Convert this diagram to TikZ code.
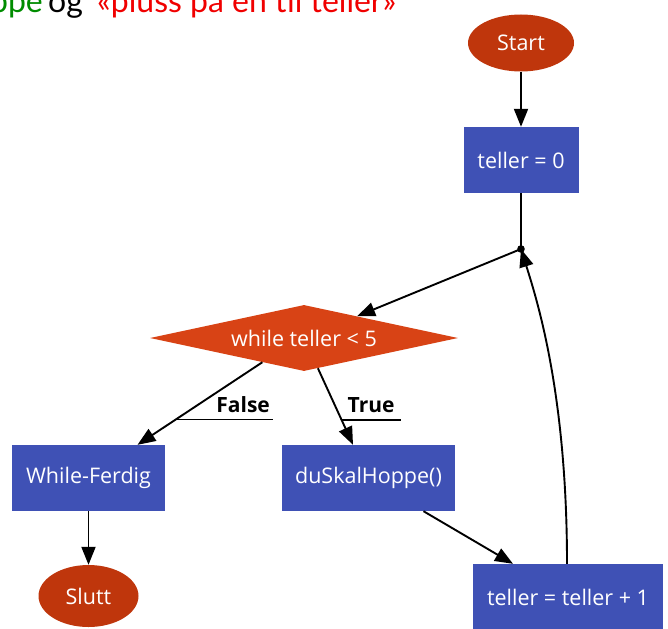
\documentclass[tikz,border=0pt]{standalone}
\usepackage{fontspec}
\setmainfont{Open Sans}
\newfontfamily\headfont{Lato}
\usetikzlibrary{shapes.geometric,arrows.meta,calc}
\definecolor{boxblue}{RGB}{63,81,181}
\definecolor{diamondorange}{RGB}{216,67,21}
\definecolor{termred}{RGB}{191,54,12}
\definecolor{headgreen}{RGB}{0,140,0}
\definecolor{headred}{RGB}{240,0,0}
\begin{document}
\begin{tikzpicture}[x=1pt,y=-1pt,
  every node/.style={font=\fontsize{21.5}{26}\selectfont},
  procbox/.style={rectangle, fill=boxblue, text=white, minimum height=66pt, inner sep=0pt},
  terminal/.style={ellipse, fill=termred, text=white, inner sep=0pt},
  decision/.style={diamond, fill=diamondorange, text=white, inner sep=0pt,
    aspect=4.67, minimum width=308pt, minimum height=66pt},
  flow/.style={line width=1.9pt, -{Triangle[length=18pt,width=14pt]}},
  plain/.style={line width=1.9pt},
  underline/.style={line width=1.3pt},
  edgelabel/.style={font=\bfseries\fontsize{21}{25}\selectfont},
  heading/.style={font=\headfont\fontsize{32}{38}\selectfont, inner sep=0pt}
]
\useasboundingbox (0,0) rectangle (668,628);
\clip (0,0) rectangle (668,628);

% heading line
\node[heading, text=headgreen, anchor=base east] (h1) at (43,13) {Hoppe};
\node[heading, text=black, anchor=base west] (h2) at (48,13) {og};
\node[heading, text=headred, anchor=base west] (h3) at (97,13) {«pluss på en til teller»};

% nodes
\node[terminal, minimum width=106pt, minimum height=57pt] (start) at (521,43) {Start};
\node[procbox, minimum width=115pt] (init) at (521,160) {teller = 0};
\coordinate (join) at (521,249);
\node[decision] (cond) at (304,338) {while teller < 5};
\node[procbox, minimum width=153pt] (done) at (88.5,478) {While-Ferdig};
\node[procbox, minimum width=173pt] (body) at (368.5,478) {duSkalHoppe()};
\node[terminal, minimum width=100pt, minimum height=62pt] (stop) at (88.5,596) {Slutt};
\node[procbox, minimum width=190pt] (incr) at (568,597) {teller = teller + 1};

% connectors
\draw[flow] (start) -- (init);
\draw[plain] (init) -- (join);
\fill (join) circle (3.8pt);
\draw[flow] (join) -- (cond);

\coordinate (fs) at ($(cond.west)!0.73!(cond.south)$);
\coordinate (fe) at ([xshift=49pt]done.north);
\draw[flow] (fs) -- (fe);
\coordinate (fu) at ($(fs)!0.69!(fe)$);
\draw[underline] (fu) -- ++(97,0) coordinate (fv);
\node[edgelabel, anchor=base] (flab) at ($(fu)!0.69!(fv)+(0,-7)$) {False};

\coordinate (ts) at ($(cond.south)!0.09!(cond.east)$);
\coordinate (te) at ([xshift=-15.5pt]body.north);
\draw[flow] (ts) -- (te);
\coordinate (tu) at ($(ts)!0.675!(te)$);
\draw[underline] (tu) -- ++(59,0) coordinate (tv);
\node[edgelabel, anchor=base] (tlab) at ($(tu)!0.5!(tv)+(0,-7)$) {True};

\draw[flow] ([xshift=55pt]body.south) -- ([xshift=-55pt]incr.north);
\draw[flow] (done) -- (stop);
\draw[flow] ([xshift=-1pt]incr.north) .. controls +(0,-170) and (537,300) .. (join);
\end{tikzpicture}
\end{document}
